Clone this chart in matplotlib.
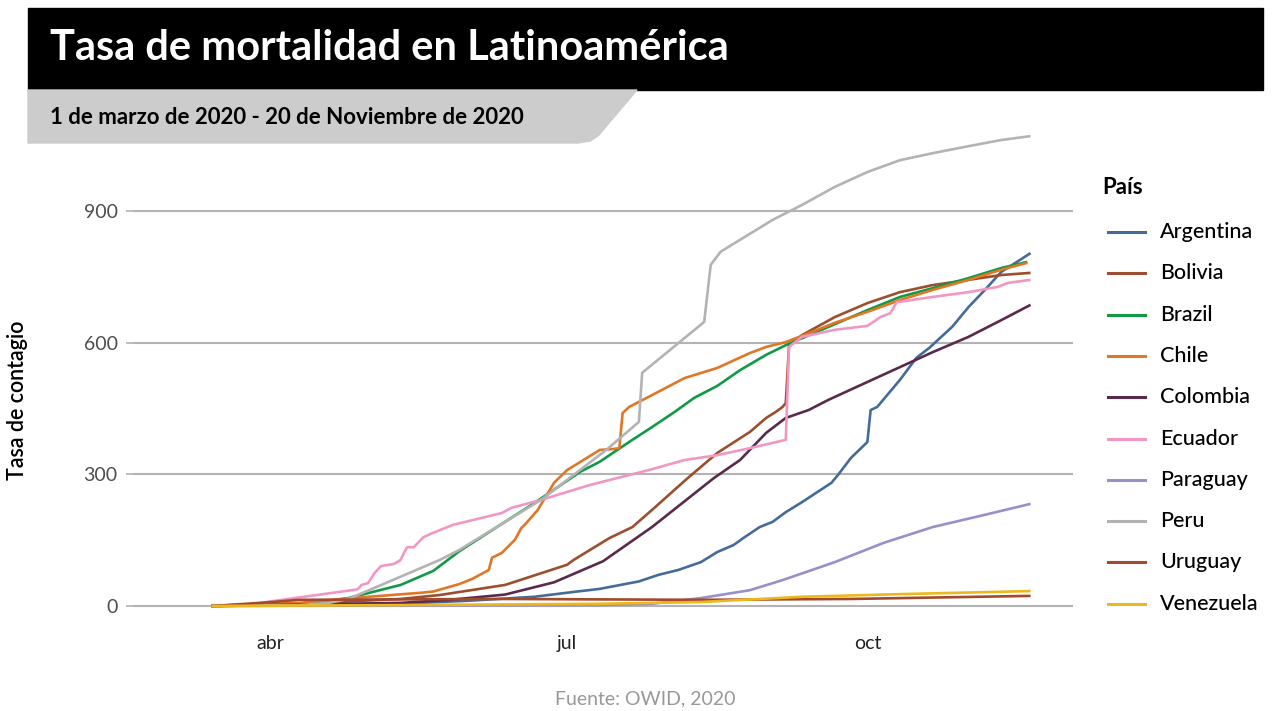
import matplotlib
matplotlib.use('Agg')
import matplotlib.pyplot as plt
from matplotlib.lines import Line2D
from matplotlib.patches import Polygon, Rectangle
import pandas as pd

plt.rcParams['font.family'] = ['Lato', 'DejaVu Sans']

# datos (tasa por millon de habitantes)
paises = ['Argentina', 'Bolivia', 'Brazil', 'Chile', 'Colombia',
          'Ecuador', 'Paraguay', 'Peru', 'Uruguay', 'Venezuela']
colores = ['#456c98', '#9c4f2e', '#119a45', '#e17626', '#5a2a4b',
           '#f297c3', '#9890c8', '#b3b3b3', '#a34a2c', '#ecb81c']

arg_fechas = ['03-14', '04-10', '05-11', '06-01', '06-21', '07-03', '07-11', '07-23', '07-29',
              '08-04', '08-11', '08-16', '08-21', '08-24', '08-29', '09-02', '09-06', '09-11',
              '09-20', '09-22', '09-26', '10-01', '10-02', '10-04', '10-11', '10-16', '10-20',
              '10-27', '11-01', '11-06', '11-11', '11-20']
arg_vals = [0, 2, 5, 12, 21, 32, 39, 56, 71, 82, 100, 123, 139, 155, 180, 192, 214, 237,
            281, 299, 338, 374, 447, 454, 516, 566, 589, 637, 682, 721, 762, 805]

bol_fechas = ['03-14', '04-10', '05-11', '05-23', '06-12', '07-01', '07-03', '07-14', '07-21',
              '07-27', '08-07', '08-16', '08-26', '08-31', '09-03', '09-05', '09-06', '09-07',
              '09-11', '09-21', '10-01', '10-11', '10-21', '11-01', '11-11', '11-20']
bol_vals = [0, 5, 16, 25, 48, 94, 105, 155, 180, 219, 292, 349, 397, 429, 443, 454, 463, 595,
            618, 659, 691, 716, 732, 744, 755, 760]

bra_fechas = ['03-14', '04-10', '04-25', '05-11', '05-21', '05-29', '06-21', '07-05', '07-11',
              '07-21', '07-27', '08-03', '08-09', '08-16', '08-23', '08-31', '09-06', '09-17',
              '10-01', '10-11', '10-21', '11-01', '11-11', '11-19']
bra_vals = [0, 2, 18, 48, 80, 125, 235, 306, 329, 379, 408, 443, 475, 502, 538, 573, 595, 630,
            675, 705, 725, 748, 771, 785]

chl_fechas = ['03-14', '04-10', '04-26', '05-17', '05-21', '05-29', '06-02', '06-07', '06-08',
              '06-11', '06-15', '06-17', '06-18', '06-22', '06-27', '07-01', '07-11', '07-15',
              '07-17', '07-18', '07-20', '07-27', '08-06', '08-16', '08-26', '08-31', '09-06',
              '09-17', '09-21', '10-01', '10-11', '10-21', '11-01', '11-11', '11-19']
chl_vals = [0, 7, 18, 30, 33, 50, 62, 82, 110, 121, 151, 178, 185, 219, 281, 310, 356, 358,
            360, 440, 454, 481, 520, 543, 577, 591, 602, 634, 646, 671, 698, 721, 744, 767, 783]

col_fechas = ['03-14', '05-11', '05-26', '06-12', '06-27', '07-12', '07-27', '08-15', '08-23',
              '08-31', '09-06', '09-13', '09-19', '10-01', '10-11', '10-21', '11-01', '11-11',
              '11-20']
col_vals = [0, 7, 14, 26, 54, 102, 180, 292, 333, 395, 429, 447, 470, 511, 545, 579, 614, 652,
            687]

ecu_fechas = ['03-14', '03-25', '04-27', '04-28', '04-29', '05-01', '05-03', '05-05', '05-09',
              '05-11', '05-12', '05-13', '05-15', '05-18', '05-21', '05-27', '06-11', '06-14',
              '06-23', '07-08', '07-27', '08-06', '08-16', '08-26', '09-06', '09-07', '09-11',
              '09-21', '10-01', '10-05', '10-08', '10-10', '10-21', '11-01', '11-10', '11-13',
              '11-20']
ecu_vals = [0, 3, 37, 39, 48, 52, 75, 91, 96, 105, 121, 134, 134, 157, 167, 185, 212, 224,
            242, 276, 312, 333, 344, 360, 379, 591, 614, 630, 639, 659, 668, 693, 705, 716,
            728, 737, 744]

par_fechas = ['03-14', '07-11', '07-27', '08-11', '08-26', '09-05', '09-21', '10-06', '10-21',
              '11-06', '11-20']
par_vals = [0, 2, 5, 18, 36, 59, 100, 144, 180, 208, 233]

per_fechas = ['03-14', '04-10', '04-19', '04-25', '05-23', '05-29', '06-23', '07-13', '07-23',
              '07-24', '08-12', '08-14', '08-17', '09-02', '09-11', '09-21', '10-01', '10-11',
              '10-21', '11-01', '11-11', '11-20']
per_vals = [0, 2, 7, 16, 105, 128, 242, 356, 420, 532, 648, 778, 808, 881, 915, 956, 990,
            1017, 1033, 1049, 1063, 1072]

uru_fechas = ['03-14', '03-29', '04-10', '06-11', '08-11', '09-26', '11-20']
uru_vals = [0, 7, 14, 16, 14, 16, 23]

ven_fechas = ['03-14', '05-11', '07-11', '08-11', '09-11', '10-11', '11-20']
ven_vals = [0, 2, 5, 9, 21, 27, 34]

series = [(arg_fechas, arg_vals), (bol_fechas, bol_vals), (bra_fechas, bra_vals),
          (chl_fechas, chl_vals), (col_fechas, col_vals), (ecu_fechas, ecu_vals),
          (par_fechas, par_vals), (per_fechas, per_vals), (uru_fechas, uru_vals),
          (ven_fechas, ven_vals)]

W, H = 1273, 711


def fx(x):
    return x / W


def fy(y):
    return 1 - y / H


fig = plt.figure(figsize=(W / 100, H / 100), dpi=100)

# cabecera
fig.add_artist(Rectangle((fx(28), fy(90)), fx(1263) - fx(28), fy(8) - fy(90),
                         transform=fig.transFigure, color='black', zorder=0))
fig.text(fx(50), fy(48), 'Tasa de mortalidad en Latinoamérica', color='white',
         fontsize=30, fontweight='bold', va='center', ha='left')
gris = [(28, 90), (637, 90), (604, 129), (598, 136), (590, 141), (578, 143), (28, 143)]
fig.add_artist(Polygon([(fx(a), fy(b)) for a, b in gris], closed=True,
                       transform=fig.transFigure, color='#cccccc', zorder=0))
fig.text(fx(50), fy(118), '1 de marzo de 2020 - 20 de Noviembre de 2020', color='black',
         fontsize=16, fontweight='bold', va='center', ha='left')

# grafico
ax = fig.add_axes([fx(133), fy(623.5), fx(1073) - fx(133), fy(128.2) - fy(623.5)])
ax.set_facecolor('none')
for (f, v), c in zip(series, colores):
    fechas = pd.to_datetime(['2020-' + d for d in f])
    ax.plot(fechas, v, color=c, lw=1.9, solid_capstyle='butt')

ax.set_xlim(pd.Timestamp('2020-02-19'), pd.Timestamp('2020-12-03'))
ax.set_ylim(-40, 1090)
ax.set_yticks([0, 300, 600, 900])
ax.set_xticks(pd.to_datetime(['2020-04-01', '2020-07-01', '2020-10-01']))
ax.set_xticklabels(['abr', 'jul', 'oct'])
ax.yaxis.grid(True, color='#b3b3b3', lw=1.5)
ax.set_axisbelow(True)
for s in ax.spines.values():
    s.set_visible(False)
ax.tick_params(axis='y', length=5, width=1.2, color='#b3b3b3', pad=6,
               labelsize=14, labelcolor='#4d4d4d')
ax.tick_params(axis='x', length=0, pad=8, labelsize=14, labelcolor='#222222')

fig.text(fx(18), fy(400), 'Tasa de contagio', rotation=90, fontsize=15.5,
         fontweight='semibold', va='center', ha='center')

# leyenda
fig.text(fx(1102), fy(187), 'País', fontsize=16, fontweight='bold', va='center', ha='left')
for i, (p, c) in enumerate(zip(paises, colores)):
    yy = 232 + i * 41.3
    fig.add_artist(Line2D([fx(1108), fx(1145)], [fy(yy), fy(yy)], color=c, lw=2.2,
                          transform=fig.transFigure))
    fig.text(fx(1160), fy(yy), p, fontsize=15.5, fontweight='medium', va='center', ha='left')

fig.text(fx(645), fy(699), 'Fuente: OWID, 2020', fontsize=14, color='#999999',
         va='center', ha='center')

fig.savefig('out.png', dpi=100)
